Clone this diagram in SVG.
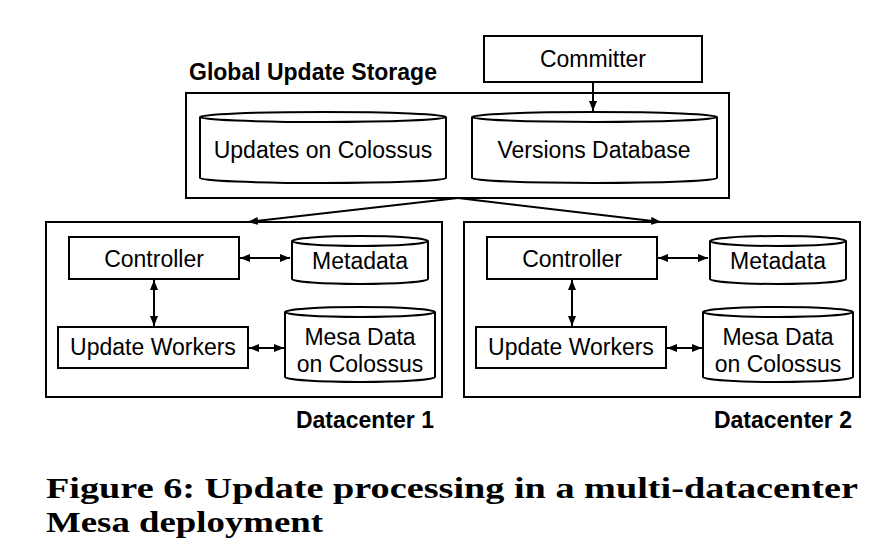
<svg xmlns="http://www.w3.org/2000/svg" width="891" height="557" viewBox="0 0 891 557">
  <style>
    .box { fill: #fff; stroke: #000; stroke-width: 2; }
    .cyl { fill: #fff; stroke: #000; stroke-width: 2; }
    .lbl { font-family: "Liberation Sans", Arial, sans-serif; font-size: 23px; fill: #000; text-anchor: middle; }
    .title { font-family: "Liberation Sans", Arial, sans-serif; font-size: 23px; font-weight: bold; fill: #000; }
    .cap { font-family: "Liberation Serif", "Times New Roman", serif; font-size: 30px; font-weight: bold; fill: #000; }
    .conn { fill: none; stroke: #000; stroke-width: 2; }
  </style>
  <defs>
    <marker id="ah" markerUnits="userSpaceOnUse" markerWidth="11" markerHeight="9" refX="10" refY="4" orient="auto-start-reverse">
      <path d="M0,0 L10,4 L0,8 z" fill="#000"/>
    </marker>
  </defs>
  <rect width="891" height="557" fill="#fff"/>

  <g id="global-storage">
    <rect class="box" x="186" y="93" width="543" height="105"/>
    <text class="title" x="189" y="80">Global Update Storage</text>
  </g>
  <g id="updates-colossus">
    <path class="cyl" d="M200,117 L200,178 A123,5 0 0 0 446,178 L446,117 A123,5 0 0 0 200,117 A123,5 0 0 0 446,117"/>
    <text class="lbl" x="323" y="158">Updates on Colossus</text>
  </g>
  <g id="versions-db">
    <path class="cyl" d="M472,117 L472,178 A122.5,5 0 0 0 717,178 L717,117 A122.5,5 0 0 0 472,117 A122.5,5 0 0 0 717,117"/>
    <text class="lbl" x="594" y="158">Versions Database</text>
  </g>
  <g id="committer">
    <rect class="box" x="484" y="36" width="218" height="46"/>
    <text class="lbl" x="593" y="67">Committer</text>
  </g>

  <g id="datacenter1">
    <rect class="box" x="46" y="222" width="396" height="175"/>
    <text class="title" x="434" y="428" text-anchor="end">Datacenter 1</text>
  </g>
  <g id="dc1-controller">
    <rect class="box" x="69" y="237" width="170" height="42"/>
    <text class="lbl" x="154" y="267">Controller</text>
  </g>
  <g id="dc1-metadata">
    <path class="cyl" d="M292,241 L292,279 A68,5 0 0 0 428,279 L428,241 A68,5 0 0 0 292,241 A68,5 0 0 0 428,241"/>
    <text class="lbl" x="360" y="269">Metadata</text>
  </g>
  <g id="dc1-workers">
    <rect class="box" x="58" y="327" width="190" height="41"/>
    <text class="lbl" x="153" y="355">Update Workers</text>
  </g>
  <g id="dc1-mesa">
    <path class="cyl" d="M285,312 L285,377 A75,5 0 0 0 435,377 L435,312 A75,5 0 0 0 285,312 A75,5 0 0 0 435,312"/>
    <text class="lbl" x="360" y="345">Mesa Data</text>
    <text class="lbl" x="360" y="372">on Colossus</text>
  </g>

  <g id="datacenter2">
    <rect class="box" x="464" y="222" width="396" height="175"/>
    <text class="title" x="852" y="428" text-anchor="end">Datacenter 2</text>
  </g>
  <g id="dc2-controller">
    <rect class="box" x="487" y="237" width="170" height="42"/>
    <text class="lbl" x="572" y="267">Controller</text>
  </g>
  <g id="dc2-metadata">
    <path class="cyl" d="M710,241 L710,279 A68,5 0 0 0 846,279 L846,241 A68,5 0 0 0 710,241 A68,5 0 0 0 846,241"/>
    <text class="lbl" x="778" y="269">Metadata</text>
  </g>
  <g id="dc2-workers">
    <rect class="box" x="476" y="327" width="190" height="41"/>
    <text class="lbl" x="571" y="355">Update Workers</text>
  </g>
  <g id="dc2-mesa">
    <path class="cyl" d="M703,312 L703,377 A75,5 0 0 0 853,377 L853,312 A75,5 0 0 0 703,312 A75,5 0 0 0 853,312"/>
    <text class="lbl" x="778" y="345">Mesa Data</text>
    <text class="lbl" x="778" y="372">on Colossus</text>
  </g>

  <g id="connectors">
    <line class="conn" x1="593" y1="82" x2="593" y2="111" marker-end="url(#ah)"/>
    <line class="conn" x1="458" y1="198" x2="248" y2="222" marker-end="url(#ah)"/>
    <line class="conn" x1="458" y1="198" x2="661" y2="222" marker-end="url(#ah)"/>
    <line class="conn" x1="240" y1="258" x2="290" y2="258" marker-start="url(#ah)" marker-end="url(#ah)"/>
    <line class="conn" x1="154" y1="280" x2="154" y2="326" marker-start="url(#ah)" marker-end="url(#ah)"/>
    <line class="conn" x1="249" y1="348" x2="284" y2="348" marker-start="url(#ah)" marker-end="url(#ah)"/>
    <line class="conn" x1="658" y1="258" x2="708" y2="258" marker-start="url(#ah)" marker-end="url(#ah)"/>
    <line class="conn" x1="572" y1="280" x2="572" y2="326" marker-start="url(#ah)" marker-end="url(#ah)"/>
    <line class="conn" x1="667" y1="348" x2="702" y2="348" marker-start="url(#ah)" marker-end="url(#ah)"/>
  </g>

  <g id="caption">
    <text class="cap" x="46" y="498" textLength="812" lengthAdjust="spacingAndGlyphs">Figure 6: Update processing in a multi-datacenter</text>
    <text class="cap" x="46" y="532" textLength="277" lengthAdjust="spacingAndGlyphs">Mesa deployment</text>
  </g>
</svg>
